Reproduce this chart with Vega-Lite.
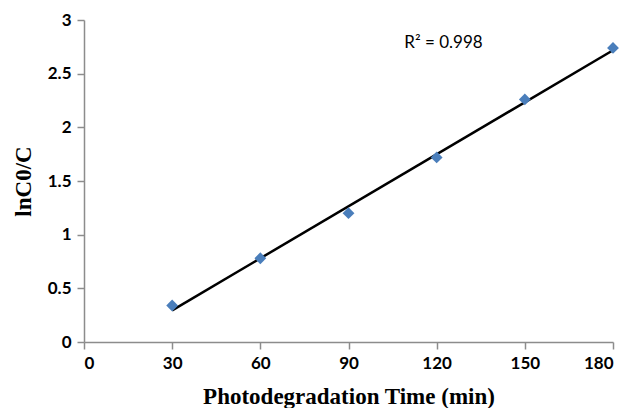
{
  "$schema": "https://vega.github.io/schema/vega-lite/v6.json",
  "width": 529,
  "height": 322,
  "autosize": {"type": "none"},
  "padding": {"left": 84, "top": 20, "right": 19, "bottom": 66},
  "background": "white",
  "config": {
    "view": {"stroke": null},
    "axis": {
      "grid": false,
      "domainColor": "#8c8c8c",
      "domainWidth": 1.5,
      "tickColor": "#8c8c8c",
      "tickWidth": 1.5,
      "tickSize": 7,
      "labelFont": "Lato",
      "labelFontSize": 17,
      "labelColor": "#000000",
      "labelFontWeight": "bold",
      "titleFont": "Liberation Serif",
      "titleFontSize": 23,
      "titleFontWeight": "bold",
      "titleColor": "#000000"
    }
  },
  "data": {
    "values": [
      {"time": 30, "lnC0C": 0.34},
      {"time": 60, "lnC0C": 0.78},
      {"time": 90, "lnC0C": 1.2},
      {"time": 120, "lnC0C": 1.72},
      {"time": 150, "lnC0C": 2.26},
      {"time": 180, "lnC0C": 2.74}
    ]
  },
  "layer": [
    {
      "transform": [{"regression": "lnC0C", "on": "time", "method": "linear"}],
      "mark": {"type": "line", "color": "#000000", "strokeWidth": 2.5},
      "encoding": {
        "x": {"field": "time", "type": "quantitative"},
        "y": {"field": "lnC0C", "type": "quantitative"}
      }
    },
    {
      "mark": {"type": "point", "shape": "diamond", "filled": true, "color": "#4a7ebb", "size": 140, "opacity": 1},
      "encoding": {
        "x": {
          "field": "time",
          "type": "quantitative",
          "scale": {"domain": [0, 180], "nice": false, "zero": true},
          "axis": {"values": [0, 30, 60, 90, 120, 150, 180], "labelPadding": 6, "title": "Photodegradation Time (min)", "titlePadding": 14}
        },
        "y": {
          "field": "lnC0C",
          "type": "quantitative",
          "scale": {"domain": [0, 3], "nice": false},
          "axis": {"values": [0, 0.5, 1, 1.5, 2, 2.5, 3], "format": "~g", "labelPadding": 6, "title": "lnC0/C", "titlePadding": 12}
        }
      }
    },
    {
      "data": {"values": [{"time": 109, "lnC0C": 2.79, "label": "R² = 0.998"}]},
      "mark": {"type": "text", "align": "left", "baseline": "middle", "font": "Lato", "fontSize": 17, "color": "#000000"},
      "encoding": {
        "x": {"field": "time", "type": "quantitative"},
        "y": {"field": "lnC0C", "type": "quantitative"},
        "text": {"field": "label"}
      }
    }
  ]
}
